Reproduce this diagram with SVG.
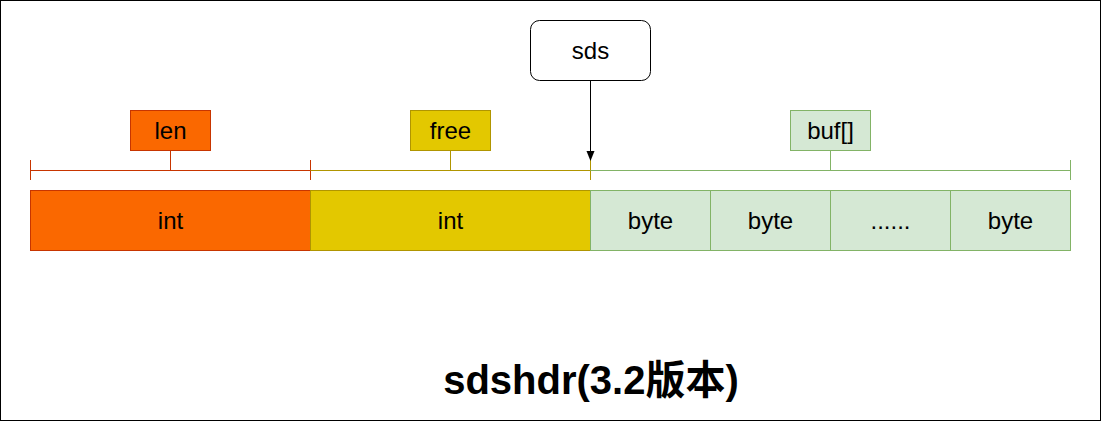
<svg xmlns="http://www.w3.org/2000/svg" width="1101" height="421" viewBox="0 0 1101 421">
<defs>
<style>
.t{font-family:"Liberation Sans",Arial,sans-serif;font-size:24px;fill:#000;text-anchor:middle;dominant-baseline:central}
.o{fill:#fa6800;stroke:#C73500}
.y{fill:#e3c800;stroke:#B09500}
.g{fill:#d5e8d4;stroke:#82b366}
.lo{stroke:#C73500;fill:none}
.ly{stroke:#B09500;fill:none}
.lg{stroke:#82b366;fill:none}
</style>
<marker id="arr" viewBox="0 0 10 10" refX="9" refY="5" markerWidth="10" markerHeight="10" markerUnits="userSpaceOnUse" orient="auto"><path d="M0,1 L10,5 L0,9 Z" fill="#000"/></marker>
</defs>
<rect x="0.5" y="0.5" width="1100" height="420" fill="#fff" stroke="#000"/>
<g id="connectors">
<path class="lo" d="M30.5,160 V180 M30.5,170.5 H310.5 M310.5,160 V180 M170.5,150 V170"/>
<path class="ly" d="M310.5,170.5 H590.5 M590.5,160 V180 M450.5,150 V170"/>
<path class="lg" d="M590.5,170.5 H1070.5 M1070.5,160 V180 M830.5,150 V170"/>
<path d="M590.5,80 V160" stroke="#000" fill="none" marker-end="url(#arr)"/>
</g>
<g id="sds"><rect x="530.5" y="20.5" width="120" height="60" rx="9" fill="#fff" stroke="#000"/><text class="t" x="590.5" y="50">sds</text></g>
<g id="len"><rect class="o" x="130.5" y="110.5" width="80" height="40"/><text class="t" x="170.5" y="130">len</text></g>
<g id="free"><rect class="y" x="410.5" y="110.5" width="80" height="40"/><text class="t" x="450.5" y="130">free</text></g>
<g id="buf"><rect class="g" x="790.5" y="110.5" width="80" height="40"/><text class="t" x="830.5" y="130">buf[]</text></g>
<g id="int1"><rect class="o" x="30.5" y="190.5" width="280" height="60"/><text class="t" x="170.5" y="220">int</text></g>
<g id="int2"><rect class="y" x="310.5" y="190.5" width="280" height="60"/><text class="t" x="450.5" y="220">int</text></g>
<g id="byte1"><rect class="g" x="590.5" y="190.5" width="120" height="60"/><text class="t" x="650.5" y="220">byte</text></g>
<g id="byte2"><rect class="g" x="710.5" y="190.5" width="120" height="60"/><text class="t" x="770.5" y="220">byte</text></g>
<g id="dots"><rect class="g" x="830.5" y="190.5" width="120" height="60"/><text class="t" x="890.5" y="220">......</text></g>
<g id="byte3"><rect class="g" x="950.5" y="190.5" width="120" height="60"/><text class="t" x="1010.5" y="220">byte</text></g>
<g id="title"><text x="591" y="380" style="font-family:'Liberation Sans','Noto Sans CJK SC',sans-serif;font-size:40px;font-weight:bold;text-anchor:middle;dominant-baseline:central">sdshdr(3.2版本)</text></g>
</svg>
